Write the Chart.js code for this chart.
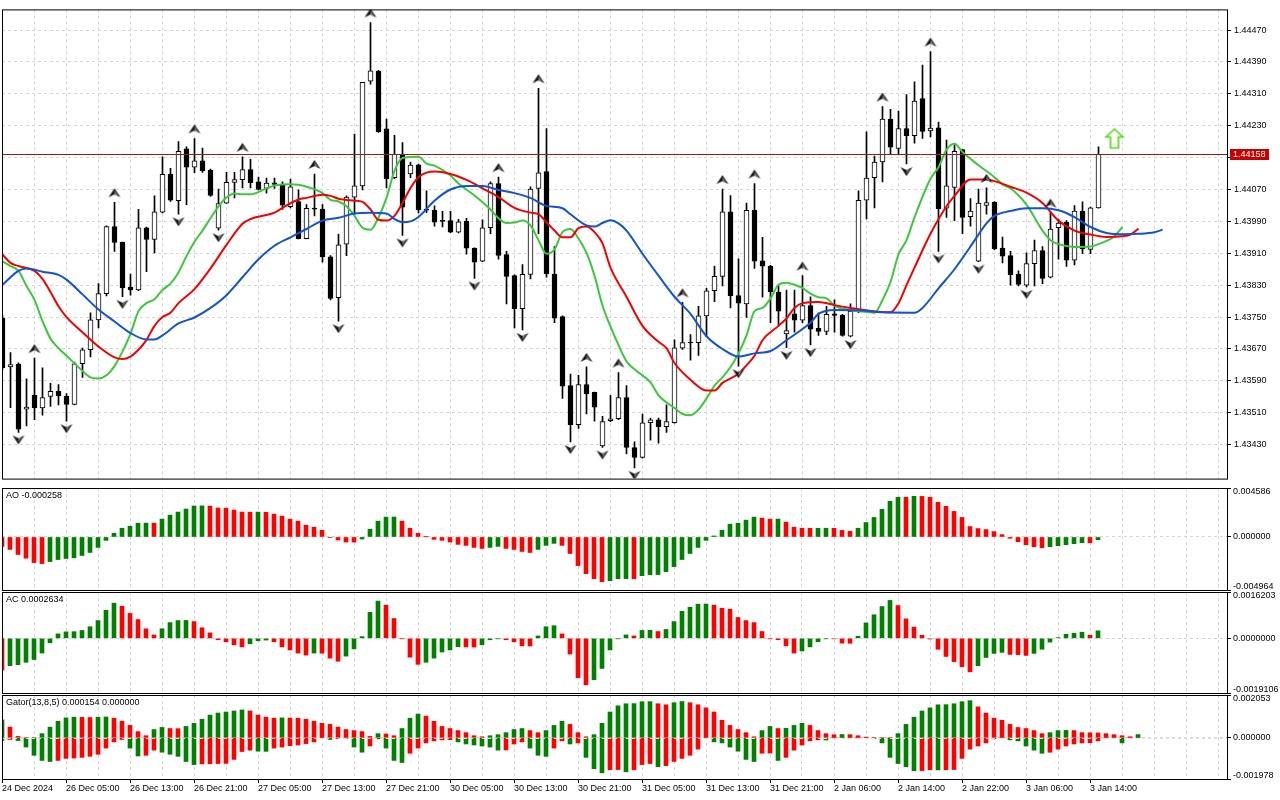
<!DOCTYPE html>
<html>
<head>
<meta charset="utf-8">
<script src="https://cdn.jsdelivr.net/npm/chart.js@4.4.1/dist/chart.umd.min.js"></script>
<style>
  html, body { margin: 0; padding: 0; background: #fff; }
  #wrap { position: relative; width: 1280px; height: 800px; overflow: hidden; background: #fff; }
  #wrap canvas { position: absolute; left: 0; }
</style>
</head>
<body>
<div id="wrap">
  <canvas id="c-main" width="1280" height="486" style="top:1px"></canvas>
  <canvas id="c-ao" width="1280" height="104" style="top:487px"></canvas>
  <canvas id="c-ac" width="1280" height="103" style="top:591px"></canvas>
  <canvas id="c-gator" width="1280" height="106" style="top:694px"></canvas>
</div>
<script>
// ---- data (H1 bars) ----
const timeLabels = ['24 Dec 2024', '26 Dec 05:00', '26 Dec 13:00', '26 Dec 21:00', '27 Dec 05:00', '27 Dec 13:00',
  '27 Dec 21:00', '30 Dec 05:00', '30 Dec 13:00', '30 Dec 21:00', '31 Dec 05:00', '31 Dec 13:00', '31 Dec 21:00',
  '2 Jan 06:00', '2 Jan 14:00', '2 Jan 22:00', '3 Jan 06:00', '3 Jan 14:00'];

const priceTicks = [1.4343, 1.4351, 1.4359, 1.4367, 1.4375, 1.4383, 1.4391, 1.4399, 1.4407, 1.4415, 1.4423, 1.4431, 1.4439, 1.4447];

const opens = [
  1.43747, 1.43625, 1.43632, 1.43519, 1.43554, 1.43522, 1.43551, 1.43564, 1.43552, 1.43531,
  1.43633, 1.43668, 1.43743, 1.43809, 1.43977, 1.43938, 1.43825, 1.43818, 1.43974, 1.43945,
  1.44013, 1.44108, 1.44042, 1.44172, 1.44126, 1.44142, 1.44119, 1.43973, 1.44036, 1.44088,
  1.44095, 1.44120, 1.44089, 1.44073, 1.44087, 1.44081, 1.44027, 1.44040, 1.43947, 1.44023,
  1.44021, 1.43901, 1.43799, 1.43933, 1.44051, 1.44079, 1.44342, 1.44367, 1.44222, 1.44100,
  1.44158, 1.44109, 1.44132, 1.44021, 1.44018, 1.43992, 1.43992, 1.43963, 1.43990, 1.43923,
  1.43890, 1.43974, 1.44085, 1.43907, 1.43854, 1.43771, 1.43857, 1.44073, 1.44115, 1.43858,
  1.43751, 1.43578, 1.43480, 1.43581, 1.43561, 1.43427, 1.43490, 1.43495, 1.43548, 1.43423,
  1.43398, 1.43485, 1.43492, 1.43475, 1.43485, 1.43672, 1.43687, 1.43686, 1.43753, 1.43816,
  1.43852, 1.44014, 1.43804, 1.43783, 1.44018, 1.43891, 1.43878, 1.43813, 1.43708, 1.43758,
  1.43742, 1.43779, 1.43722, 1.43714, 1.43758, 1.43755, 1.43702, 1.43765, 1.44043, 1.44100,
  1.44139, 1.44247, 1.44173, 1.44223, 1.44205, 1.44298, 1.44217, 1.44225, 1.44023, 1.44075,
  1.44170, 1.44002, 1.43890, 1.44030, 1.44038, 1.43923, 1.43904, 1.43857, 1.43830, 1.43884,
  1.43917, 1.43850, 1.43974, 1.43988, 1.43893, 1.44016, 1.43920, 1.44024];
const highs = [
  1.43753, 1.43661, 1.43635, 1.43595, 1.43647, 1.43623, 1.43584, 1.43581, 1.43558, 1.43637,
  1.43672, 1.43761, 1.43834, 1.43979, 1.44038, 1.43938, 1.43858, 1.44020, 1.43976, 1.44054,
  1.44152, 1.44123, 1.44190, 1.44177, 1.44198, 1.44174, 1.44121, 1.44071, 1.44113, 1.44113,
  1.44152, 1.44146, 1.44101, 1.44099, 1.44099, 1.44089, 1.44096, 1.44069, 1.44032, 1.44109,
  1.44032, 1.43904, 1.43958, 1.44054, 1.44209, 1.44339, 1.44489, 1.44369, 1.44247, 1.44206,
  1.44188, 1.44139, 1.44134, 1.44067, 1.44029, 1.44015, 1.44015, 1.43995, 1.43998, 1.43924,
  1.43994, 1.44089, 1.44101, 1.43915, 1.43856, 1.43882, 1.44077, 1.44324, 1.44223, 1.43927,
  1.43753, 1.43607, 1.43604, 1.43625, 1.43562, 1.43501, 1.43554, 1.43611, 1.43578, 1.43437,
  1.43507, 1.43497, 1.43497, 1.43530, 1.43693, 1.43787, 1.43706, 1.43777, 1.43822, 1.43878,
  1.44071, 1.44055, 1.43896, 1.44036, 1.44085, 1.43950, 1.43880, 1.43830, 1.43818, 1.43818,
  1.43854, 1.43801, 1.43761, 1.43777, 1.43793, 1.43757, 1.43783, 1.44067, 1.44215, 1.44154,
  1.44278, 1.44271, 1.44267, 1.44308, 1.44340, 1.44382, 1.44416, 1.44239, 1.44194, 1.44182,
  1.44170, 1.44047, 1.44071, 1.44074, 1.44040, 1.43951, 1.43915, 1.43866, 1.43911, 1.43943,
  1.43927, 1.44012, 1.43996, 1.43992, 1.44030, 1.44039, 1.44026, 1.44177];
const lows = [
  1.43619, 1.43523, 1.43461, 1.43477, 1.43493, 1.43504, 1.43526, 1.43530, 1.43489, 1.43530,
  1.43599, 1.43650, 1.43723, 1.43803, 1.43915, 1.43801, 1.43805, 1.43816, 1.43864, 1.43911,
  1.44011, 1.44040, 1.44008, 1.44032, 1.44112, 1.44113, 1.44053, 1.43968, 1.44035, 1.44049,
  1.44074, 1.44074, 1.44069, 1.44061, 1.44073, 1.44020, 1.44024, 1.43946, 1.43946, 1.44004,
  1.43888, 1.43793, 1.43740, 1.43904, 1.44008, 1.44069, 1.44334, 1.44213, 1.44074, 1.44097,
  1.43955, 1.44100, 1.44011, 1.44012, 1.43978, 1.43976, 1.43962, 1.43961, 1.43908, 1.43847,
  1.43889, 1.43959, 1.43895, 1.43783, 1.43723, 1.43718, 1.43846, 1.43959, 1.43850, 1.43736,
  1.43546, 1.43437, 1.43471, 1.43507, 1.43489, 1.43423, 1.43488, 1.43493, 1.43407, 1.43372,
  1.43396, 1.43441, 1.43434, 1.43461, 1.43484, 1.43669, 1.43642, 1.43654, 1.43700, 1.43789,
  1.43828, 1.43773, 1.43627, 1.43749, 1.43872, 1.43800, 1.43736, 1.43728, 1.43673, 1.43712,
  1.43736, 1.43680, 1.43704, 1.43706, 1.43712, 1.43702, 1.43700, 1.43761, 1.43996, 1.44024,
  1.44089, 1.44158, 1.44158, 1.44134, 1.44186, 1.44198, 1.44202, 1.43915, 1.44000, 1.43992,
  1.43959, 1.43978, 1.43889, 1.44008, 1.43919, 1.43886, 1.43830, 1.43828, 1.43826, 1.43828,
  1.43834, 1.43848, 1.43895, 1.43877, 1.43881, 1.43909, 1.43909, 1.44023];
const closes = [
  1.43623, 1.43631, 1.43469, 1.43524, 1.43522, 1.43548, 1.43564, 1.43552, 1.43531, 1.43633,
  1.43668, 1.43743, 1.43809, 1.43977, 1.43937, 1.43823, 1.43818, 1.43974, 1.43945, 1.44014,
  1.44108, 1.44043, 1.44166, 1.44126, 1.44142, 1.44117, 1.44055, 1.44035, 1.44088, 1.44095,
  1.44120, 1.44087, 1.44070, 1.44086, 1.44083, 1.44031, 1.44077, 1.43947, 1.44023, 1.44021,
  1.43901, 1.43797, 1.43931, 1.44051, 1.44079, 1.44339, 1.44368, 1.44215, 1.44097, 1.44158,
  1.44026, 1.44131, 1.44019, 1.44018, 1.43988, 1.43990, 1.43963, 1.43989, 1.43923, 1.43888,
  1.43974, 1.44085, 1.43905, 1.43852, 1.43771, 1.43857, 1.44071, 1.44112, 1.43858, 1.43747,
  1.43577, 1.43480, 1.43581, 1.43558, 1.43524, 1.43488, 1.43495, 1.43548, 1.43423, 1.43398,
  1.43485, 1.43492, 1.43475, 1.43488, 1.43673, 1.43686, 1.43685, 1.43753, 1.43816, 1.43852,
  1.44014, 1.43804, 1.43785, 1.44018, 1.43890, 1.43878, 1.43813, 1.43765, 1.43716, 1.43742,
  1.43779, 1.43720, 1.43714, 1.43757, 1.43754, 1.43704, 1.43765, 1.44043, 1.44099, 1.44139,
  1.44247, 1.44176, 1.44223, 1.44205, 1.44292, 1.44216, 1.44224, 1.44022, 1.44079, 1.44166,
  1.44000, 1.44016, 1.44036, 1.44037, 1.43921, 1.43903, 1.43856, 1.43832, 1.43884, 1.43917,
  1.43847, 1.43971, 1.43986, 1.43893, 1.44016, 1.43921, 1.44024, 1.44158];

// Alligator lines as [bar, price], already shifted forward like on the chart
const jaw = [[0, 1.43831], [2, 1.43866], [3, 1.43872], [5, 1.43864], [7, 1.43856], [8, 1.43844], [10, 1.43807], [12, 1.43769],
  [14, 1.43739], [16, 1.43710], [18, 1.43694], [19, 1.43694], [20, 1.43704], [22, 1.43734], [24, 1.43749], [26, 1.43773],
  [28, 1.43805], [30, 1.43850], [32, 1.43895], [34, 1.43929], [36, 1.43950], [38, 1.43971], [40, 1.43992], [42, 1.43999],
  [44, 1.44010], [46, 1.44012], [48, 1.44010], [49, 1.43996], [50, 1.43988], [51, 1.43990], [52, 1.44001], [54, 1.44042],
  [56, 1.44070], [58, 1.44079], [60, 1.44079], [62, 1.44069], [64, 1.44061], [66, 1.44049], [68, 1.44029], [70, 1.44023],
  [71, 1.44008], [73, 1.43980], [74, 1.43977], [75, 1.43986], [76, 1.43993], [77, 1.43985], [78, 1.43967], [80, 1.43909],
  [82, 1.43854], [84, 1.43801], [86, 1.43758], [88, 1.43702], [90, 1.43670], [92, 1.43651], [94, 1.43659], [96, 1.43665],
  [98, 1.43692], [100, 1.43720], [101, 1.43736], [102, 1.43758], [104, 1.43768], [107, 1.43767], [110, 1.43762], [114, 1.43761],
  [115, 1.43773], [117, 1.43822], [119, 1.43870], [121, 1.43927], [123, 1.43985], [124, 1.44004], [126, 1.44016], [128, 1.44023],
  [130, 1.44023], [132, 1.44018], [134, 1.44001], [136, 1.43976], [138, 1.43961], [140, 1.43958], [142, 1.43959], [144, 1.43963],
  [145, 1.43969]];
const teeth = [[0, 1.43907], [1, 1.43886], [2, 1.43878], [4, 1.43866], [5, 1.43846], [6, 1.43813], [7, 1.43777], [8, 1.43750],
  [10, 1.43712], [12, 1.43676], [14, 1.43649], [15, 1.43645], [16, 1.43651], [17, 1.43668], [18, 1.43693], [19, 1.43728],
  [20, 1.43750], [21, 1.43761], [22, 1.43785], [24, 1.43820], [26, 1.43872], [28, 1.43931], [30, 1.43984], [31, 1.43996],
  [33, 1.44006], [34, 1.44012], [35, 1.44024], [37, 1.44045], [38, 1.44049], [40, 1.44057], [41, 1.44054], [42, 1.44047],
  [44, 1.44042], [45, 1.44039], [46, 1.44020], [47, 1.43994], [48, 1.43992], [49, 1.44004], [50, 1.44036], [51, 1.44074],
  [52, 1.44101], [54, 1.44115], [56, 1.44109], [58, 1.44094], [60, 1.44073], [62, 1.44051], [64, 1.44024], [66, 1.44012],
  [67, 1.44008], [68, 1.43988], [69, 1.43967], [70, 1.43950], [71, 1.43950], [72, 1.43973], [73, 1.43977], [74, 1.43963],
  [75, 1.43935], [76, 1.43874], [78, 1.43801], [80, 1.43728], [82, 1.43688], [83, 1.43672], [84, 1.43635], [86, 1.43593],
  [88, 1.43566], [89, 1.43566], [90, 1.43585], [92, 1.43608], [93, 1.43629], [94, 1.43653], [95, 1.43692], [97, 1.43728],
  [98, 1.43747], [99, 1.43773], [100, 1.43785], [102, 1.43788], [104, 1.43780], [106, 1.43773], [108, 1.43767], [111, 1.43762],
  [112, 1.43785], [113, 1.43830], [114, 1.43874], [116, 1.43959], [118, 1.44028], [119, 1.44054], [121, 1.44095], [123, 1.44095],
  [124, 1.44091], [126, 1.44077], [128, 1.44062], [130, 1.44036], [132, 1.43992], [134, 1.43967], [136, 1.43957], [138, 1.43951],
  [140, 1.43953], [141, 1.43957], [142, 1.43972]];
const lips = [[0, 1.43890], [1, 1.43878], [2, 1.43866], [3, 1.43828], [4, 1.43793], [5, 1.43740], [6, 1.43696], [7, 1.43672],
  [8, 1.43653], [10, 1.43615], [11, 1.43599], [12, 1.43596], [13, 1.43604], [14, 1.43627], [15, 1.43664], [16, 1.43708],
  [17, 1.43765], [18, 1.43785], [19, 1.43795], [20, 1.43818], [21, 1.43834], [22, 1.43862], [23, 1.43903], [24, 1.43939],
  [25, 1.43967], [26, 1.43998], [27, 1.44028], [28, 1.44050], [29, 1.44060], [30, 1.44058], [31, 1.44058], [33, 1.44073],
  [34, 1.44080], [36, 1.44083], [37, 1.44082], [38, 1.44077], [40, 1.44061], [41, 1.44044], [42, 1.44040], [43, 1.44028],
  [44, 1.44004], [45, 1.43974], [46, 1.43969], [47, 1.44000], [48, 1.44049], [49, 1.44117], [50, 1.44149], [52, 1.44152],
  [53, 1.44135], [54, 1.44130], [56, 1.44105], [57, 1.44085], [59, 1.44055], [61, 1.44020], [62, 1.43998], [63, 1.43986],
  [64, 1.43987], [65, 1.43992], [66, 1.43980], [67, 1.43943], [68, 1.43909], [69, 1.43920], [70, 1.43963], [71, 1.43971],
  [72, 1.43947], [73, 1.43911], [74, 1.43854], [75, 1.43779], [76, 1.43726], [77, 1.43680], [78, 1.43639], [79, 1.43619],
  [81, 1.43586], [82, 1.43554], [84, 1.43522], [85, 1.43507], [86, 1.43504], [87, 1.43518], [88, 1.43546], [89, 1.43578],
  [90, 1.43599], [91, 1.43625], [92, 1.43659], [93, 1.43704], [94, 1.43765], [95, 1.43773], [96, 1.43797], [97, 1.43831],
  [98, 1.43836], [99, 1.43831], [100, 1.43823], [101, 1.43809], [102, 1.43800], [103, 1.43797], [104, 1.43779], [106, 1.43767],
  [108, 1.43763], [109, 1.43761], [110, 1.43793], [111, 1.43838], [112, 1.43907], [113, 1.43943], [114, 1.44000], [116, 1.44097],
  [117, 1.44126], [118, 1.44170], [119, 1.44185], [120, 1.44164], [122, 1.44131], [124, 1.44101], [125, 1.44083], [126, 1.44073],
  [128, 1.44032], [130, 1.43967], [131, 1.43943], [132, 1.43933], [134, 1.43926], [136, 1.43927], [137, 1.43933], [138, 1.43941],
  [139, 1.43953], [140, 1.43976]];

const fractalUp = [4, 14, 24, 30, 39, 46, 62, 67, 73, 77, 85, 90, 94, 100, 110, 116, 123, 131];
const fractalDown = [2, 8, 15, 22, 27, 42, 50, 59, 65, 71, 75, 79, 92, 98, 101, 106, 113, 117, 122, 128];
const signalArrow = [[139, 1.44198]];

const ao = [
  -0.000883, -0.001166, -0.001639, -0.001986, -0.002395, -0.002490, -0.002301, -0.002112, -0.002017, -0.001954,
  -0.001734, -0.001450, -0.000977, -0.000315, 0.000347, 0.000820, 0.001009, 0.001292, 0.001300, 0.001285,
  0.001671, 0.002049, 0.002332, 0.002616, 0.002900, 0.002910, 0.002890, 0.002711, 0.002700, 0.002522,
  0.002332, 0.002320, 0.002330, 0.002310, 0.002143, 0.001954, 0.001671, 0.001481, 0.001103, 0.000914,
  0.000630, -0.000030, -0.000284, -0.000473, -0.000480, -0.000189, 0.000725, 0.001481, 0.001860, 0.001870,
  0.001481, 0.000820, 0.000347, 0.000020, -0.000221, -0.000315, -0.000473, -0.000693, -0.000788, -0.000977,
  -0.001072, -0.000977, -0.000883, -0.001072, -0.001166, -0.001355, -0.001450, -0.001166, -0.000788, -0.000599,
  -0.000788, -0.001545, -0.002679, -0.003436, -0.003908, -0.004192, -0.004098, -0.003908, -0.003900, -0.003910,
  -0.003625, -0.003530, -0.003520, -0.003247, -0.002774, -0.002112, -0.001545, -0.000977, -0.000315, 0.000095,
  0.000630, 0.001198, 0.001292, 0.001576, 0.001860, 0.001765, 0.001671, 0.001680, 0.001387, 0.000914,
  0.000820, 0.000810, 0.000815, 0.000820, 0.000810, 0.000615, 0.000536, 0.000820, 0.001355, 0.001828,
  0.002585, 0.003341, 0.003719, 0.003710, 0.003814, 0.003800, 0.003719, 0.003247, 0.002868, 0.002395,
  0.001828, 0.000977, 0.000788, 0.000693, 0.000504, 0.000221, -0.000126, -0.000441, -0.000725, -0.000914,
  -0.001009, -0.000914, -0.000820, -0.000725, -0.000630, -0.000536, -0.000545, -0.000258];

const ac = [
  -0.001111, -0.000956, -0.000920, -0.000837, -0.000741, -0.000514, -0.000155, 0.000155, 0.000227, 0.000233,
  0.000275, 0.000406, 0.000621, 0.000980, 0.001231, 0.001123, 0.000872, 0.000657, 0.000335, 0.000120,
  0.000335, 0.000550, 0.000621, 0.000627, 0.000586, 0.000370, 0.000191, -0.000048, -0.000120, -0.000227,
  -0.000299, -0.000191, -0.000084, -0.000060, -0.000120, -0.000299, -0.000406, -0.000514, -0.000586, -0.000514,
  -0.000520, -0.000693, -0.000801, -0.000621, -0.000370, 0.000060, 0.000908, 0.001303, 0.001159, 0.000693,
  -0.000012, -0.000657, -0.000908, -0.000837, -0.000693, -0.000478, -0.000406, -0.000290, -0.000299, -0.000305,
  -0.000227, -0.000048, -0.000012, -0.000048, -0.000120, -0.000263, -0.000269, 0.000084, 0.000406, 0.000442,
  0.000155, -0.000550, -0.001374, -0.001625, -0.001446, -0.001052, -0.000406, -0.000012, 0.000120, 0.000084,
  0.000275, 0.000281, 0.000239, 0.000311, 0.000586, 0.000944, 0.001087, 0.001195, 0.001201, 0.001159,
  0.001052, 0.001016, 0.000729, 0.000621, 0.000550, 0.000239, -0.000012, -0.000048, -0.000263, -0.000514,
  -0.000442, -0.000299, -0.000120, -0.000012, -0.000018, -0.000167, -0.000173, 0.000072, 0.000538, 0.000825,
  0.001111, 0.001326, 0.001147, 0.000681, 0.000394, 0.000108, -0.000024, -0.000382, -0.000633, -0.000813,
  -0.000992, -0.001171, -0.000956, -0.000669, -0.000526, -0.000490, -0.000562, -0.000568, -0.000598, -0.000526,
  -0.000382, -0.000131, 0.000024, 0.000143, 0.000179, 0.000215, 0.000108, 0.0002634];

const gatorUp = [
  0.000857, 0.000511, 0.000066, 0, 0, 0.000198, 0.000511, 0.000792, 0.000956, 0.000989,
  0.000981, 0.000973, 0.000989, 0.000998, 0.000940, 0.000792, 0.000594, 0.000297, 0.000099, 0.000396,
  0.000495, 0.000445, 0.000437, 0.000544, 0.000693, 0.000890, 0.001088, 0.001187, 0.001237, 0.001286,
  0.001336, 0.001286, 0.001088, 0.000989, 0.000940, 0.000956, 0.000948, 0.000940, 0.000890, 0.000792,
  0.000693, 0.000643, 0.000511, 0.000396, 0.000346, 0.000297, 0.000066, 0.000198, 0.000181, 0.000099,
  0.000445, 0.000940, 0.001138, 0.001039, 0.000792, 0.000544, 0.000445, 0.000346, 0.000247, 0.000099,
  0.000049, 0.000099, 0.000148, 0.000247, 0.000396, 0.000445, 0.000346, 0.000247, 0.000346, 0.000594,
  0.000792, 0.000643, 0.000247, 0.000049, 0.000148, 0.000693, 0.001237, 0.001534, 0.001633, 0.001641,
  0.001731, 0.001735, 0.001633, 0.001583, 0.001682, 0.001740, 0.001682, 0.001583, 0.001435, 0.001237,
  0.000841, 0.000594, 0.000396, 0.000247, 0.000049, 0.000346, 0.000544, 0.000445, 0.000453, 0.000594,
  0.000693, 0.000594, 0.000346, 0.000198, 0.000148, 0.000157, 0.000148, 0.000099, 0.000033, 0,
  0, 0, 0.000198, 0.000643, 0.000989, 0.001286, 0.001435, 0.001583, 0.001591, 0.001633,
  0.001731, 0.001781, 0.001484, 0.001187, 0.000940, 0.000841, 0.000643, 0.000495, 0.000445, 0.000346,
  0.000198, 0.000247, 0.000346, 0.000355, 0.000346, 0.000247, 0.000239, 0.000231, 0.000198, 0.000148,
  0.000099, 0.000049, 0.000154];
const gatorDown = [
  -0.000132, -0.000082, -0.000132, -0.000445, -0.000841, -0.001088, -0.001138, -0.001088, -0.000989, -0.000973,
  -0.000940, -0.000890, -0.000792, -0.000495, -0.000198, -0.000082, -0.000495, -0.000874, -0.000841, -0.000594,
  -0.000693, -0.000792, -0.000890, -0.001138, -0.001286, -0.001253, -0.001245, -0.001237, -0.001229, -0.001039,
  -0.000660, -0.000594, -0.000643, -0.000651, -0.000495, -0.000445, -0.000379, -0.000346, -0.000280, -0.000198,
  0, -0.000082, -0.000033, -0.000008, -0.000445, -0.000693, -0.000396, -0.000049, -0.000495, -0.001088,
  -0.001187, -0.000742, -0.000495, -0.000247, -0.000148, -0.000099, -0.000091, -0.000198, -0.000297, -0.000346,
  -0.000396, -0.000445, -0.000594, -0.000585, -0.000297, -0.000198, -0.000495, -0.000841, -0.000890, -0.000495,
  -0.000148, -0.000297, -0.000247, -0.000940, -0.001484, -0.001682, -0.001534, -0.001525, -0.001633, -0.001534,
  -0.001286, -0.001237, -0.001385, -0.001336, -0.001138, -0.000989, -0.000841, -0.000544, 0, -0.000198,
  -0.000247, -0.000445, -0.000643, -0.001039, -0.001138, -0.000742, -0.000734, -0.001088, -0.000940, -0.000594,
  -0.000346, -0.000148, -0.000099, -0.000107, 0, 0, 0, 0, 0, -0.000033,
  -0.000247, -0.000940, -0.001237, -0.001385, -0.001583, -0.001575, -0.001534, -0.001542, -0.001534, -0.001525,
  -0.000989, -0.000544, -0.000396, -0.000247, -0.000049, 0, -0.000099, -0.000148, -0.000396, -0.000594,
  -0.000742, -0.000693, -0.000544, -0.000396, -0.000297, -0.000247, -0.000239, -0.000148, 0, 0,
  -0.000247, 0, 0];

// scale extremes printed on the right of each window
const priceRange = [1.433449, 1.445218];
const aoRange = [-0.004964, 0.004586];
const acRange = [-0.0019106, 0.0016203];
const gatorRange = [-0.001978, 0.002053];

// ---- look ----
const FONT = '"Liberation Sans", Arial, sans-serif';
const GRID = '#d6d6d6';
const UP = '#008000';
const DOWN = '#ff0000';
const AXIS_W = 53;
const BAR_SPAN = 153.125;   // bars that fit across the plot (8px each)

Chart.defaults.font.family = FONT;
Chart.defaults.font.size = 9;
Chart.defaults.color = '#000';

function xAxis(min, withLabels) {
  return {
    type: 'linear', min: min, max: min + BAR_SPAN, offset: false,
    afterBuildTicks: s => { s.ticks = []; for (let v = 0; v <= 152; v += 4) s.ticks.push({ value: v }); },
    afterFit: s => { s.height = withLabels ? 21 : 0; },
    grid: {
      color: GRID, offset: false, drawTicks: withLabels, tickLength: 4,
      tickColor: c => (c.index % 2 === 0 && c.index / 2 < timeLabels.length ? '#000' : 'rgba(0,0,0,0)')
    },
    border: { display: false, dash: [3, 3] },
    ticks: {
      display: withLabels, autoSkip: false, maxRotation: 0, minRotation: 0, align: 'start', padding: 0,
      callback: v => (v % 8 === 0 && timeLabels[v / 8]) || ''
    }
  };
}

function yAxis(range, ticks, showLabels, digits) {
  return {
    position: 'right', min: range[0], max: range[1],
    afterBuildTicks: s => { s.ticks = ticks.map(v => ({ value: v })); },
    afterFit: s => { s.width = AXIS_W; },
    grid: { color: GRID, tickLength: 4, tickColor: '#000' },
    border: { display: false, dash: [3, 3] },
    ticks: { display: showLabels, autoSkip: false, padding: 3, callback: v => v.toFixed(digits) }
  };
}

// frame, window title, right-hand scale text, extra lines
function panelPlugin(o) {
  return {
    id: 'panel',
    afterDatasetsDraw(chart) {
      const { ctx, chartArea: a } = chart;
      ctx.save();
      if (o.zeroOnTop) {
        const y = Math.round(chart.scales.y.getPixelForValue(0)) + 0.5;
        ctx.strokeStyle = '#e2e2e2'; ctx.lineWidth = 1; ctx.setLineDash([3, 3]);
        ctx.beginPath(); ctx.moveTo(a.left, y); ctx.lineTo(a.right, y); ctx.stroke();
      }
      if (o.priceLine !== undefined) {
        const y = Math.round(chart.scales.y.getPixelForValue(o.priceLine)) + 0.5;
        ctx.strokeStyle = '#a01818'; ctx.lineWidth = 1; ctx.setLineDash([]);
        ctx.beginPath(); ctx.moveTo(a.left, y); ctx.lineTo(a.right, y); ctx.stroke();
      }
      ctx.restore();
    },
    afterDraw(chart) {
      const { ctx, chartArea: a } = chart;
      ctx.save();
      ctx.strokeStyle = '#000'; ctx.lineWidth = 1;
      ctx.strokeRect(a.left + 0.5, a.top + 0.5, a.right - a.left, a.bottom - a.top);
      ctx.font = '9px ' + FONT;
      ctx.fillStyle = '#000'; ctx.textAlign = 'left';
      if (o.title) {
        ctx.textBaseline = 'top';
        ctx.fillText(o.title, a.left + 4, a.top + 3);
      }
      if (o.scaleText) {
        const x = a.right + 6;
        ctx.textBaseline = 'top';
        ctx.fillText(o.range[1].toFixed(o.digits), x, a.top - 1);
        ctx.textBaseline = 'middle';
        ctx.fillText((0).toFixed(o.digits), x, chart.scales.y.getPixelForValue(0));
        ctx.textBaseline = 'bottom';
        ctx.fillText(o.range[0].toFixed(o.digits), x, a.bottom + 1);
      }
      if (o.priceLine !== undefined) {
        const y = Math.round(chart.scales.y.getPixelForValue(o.priceLine));
        ctx.fillStyle = '#c80000';
        ctx.fillRect(a.right + 3, y - 5, 39, 11);
        ctx.fillStyle = '#fff'; ctx.textBaseline = 'middle';
        ctx.fillText(o.priceLine.toFixed(5), a.right + 6, y + 0.5);
      }
      ctx.restore();
    }
  };
}

function fractalIcon(up) {
  const c = document.createElement('canvas');
  c.width = 14; c.height = 36;
  const g = c.getContext('2d');
  g.translate(7, up ? 9 : 25);
  if (!up) g.scale(1, -1);
  g.beginPath(); g.moveTo(0, -5); g.lineTo(6, 4); g.lineTo(0, 1); g.lineTo(-6, 4); g.closePath();
  g.fillStyle = '#151515'; g.fill();
  g.beginPath(); g.moveTo(0, -3); g.lineTo(4, 3); g.lineTo(0, 1); g.closePath();
  g.fillStyle = '#8a7a6a'; g.fill();
  return c;
}

function arrowIcon() {
  const c = document.createElement('canvas');
  c.width = 22; c.height = 24;
  const g = c.getContext('2d');
  g.translate(11, 12);
  g.beginPath();
  g.moveTo(0, -9.5); g.lineTo(8.5, -1.5); g.lineTo(4, -1.5); g.lineTo(4, 9.5);
  g.lineTo(-4, 9.5); g.lineTo(-4, -1.5); g.lineTo(-8.5, -1.5); g.closePath();
  g.fillStyle = '#fbfff0'; g.fill();
  g.strokeStyle = '#5ccf2c'; g.lineWidth = 1.6; g.stroke();
  return c;
}

function risingColors(values, firstColor, useAbs) {
  return values.map((v, i) => {
    if (i === 0) return firstColor;
    const a = useAbs ? Math.abs(v) : v;
    const b = useAbs ? Math.abs(values[i - 1]) : values[i - 1];
    return a > b ? UP : DOWN;
  });
}

const baseOptions = (padBottom) => ({
  responsive: false,
  animation: false,
  events: [],
  layout: { autoPadding: false, padding: { left: 2, right: 0, top: 1, bottom: padBottom } },
  plugins: { legend: { display: false }, tooltip: { enabled: false } }
});

// ---- price window ----
const bars = opens.map((_, i) => i);
const lineSet = (pts, color) => ({
  type: 'line', data: pts.map(p => ({ x: p[0], y: p[1] })), borderColor: color, borderWidth: 2,
  pointRadius: 0, cubicInterpolationMode: 'monotone', order: 2
});

new Chart(document.getElementById('c-main'), {
  type: 'bar',
  data: {
    datasets: [
      { label: 'wick', data: bars.map(i => ({ x: i, y: [lows[i], highs[i]] })), backgroundColor: '#000',
        barThickness: 1, grouped: false, order: 5 },
      { label: 'body', data: bars.map(i => ({ x: i, y: [opens[i], closes[i]] })),
        backgroundColor: bars.map(i => (closes[i] >= opens[i] ? '#fff' : '#000')),
        borderColor: '#000', borderWidth: 1, borderSkipped: false, barThickness: 5, minBarLength: 1,
        grouped: false, order: 4 },
      lineSet(jaw, '#1152d6'),
      lineSet(teeth, '#f40000'),
      lineSet(lips, '#3cc83c'),
      { type: 'line', data: fractalUp.map(k => ({ x: k, y: highs[k] })), showLine: false,
        pointStyle: fractalIcon(true), pointRadius: 6, order: 1 },
      { type: 'line', data: fractalDown.map(k => ({ x: k, y: lows[k] })), showLine: false,
        pointStyle: fractalIcon(false), pointRadius: 6, order: 1 },
      { type: 'line', data: signalArrow.map(p => ({ x: p[0], y: p[1] })), showLine: false,
        pointStyle: arrowIcon(), pointRadius: 8, order: 0 }
    ]
  },
  options: Object.assign(baseOptions(1), {
    scales: { x: xAxis(-0.0625, false), y: yAxis(priceRange, priceTicks, true, 5) }
  }),
  plugins: [panelPlugin({ priceLine: closes[closes.length - 1] })]
});

// ---- AO ----
new Chart(document.getElementById('c-ao'), {
  type: 'bar',
  data: { datasets: [{ data: ao.map((v, i) => ({ x: i, y: v })), backgroundColor: risingColors(ao, DOWN, false),
    barThickness: 4, grouped: false }] },
  options: Object.assign(baseOptions(1), {
    scales: { x: xAxis(0, false), y: yAxis(aoRange, [aoRange[0], 0, aoRange[1]], false, 6) }
  }),
  plugins: [panelPlugin({ title: 'AO ' + ao[ao.length - 1].toFixed(6), scaleText: true, range: aoRange, digits: 6 })]
});

// ---- AC ----
new Chart(document.getElementById('c-ac'), {
  type: 'bar',
  data: { datasets: [{ data: ac.map((v, i) => ({ x: i, y: v })), backgroundColor: risingColors(ac, DOWN, false),
    barThickness: 4, grouped: false }] },
  options: Object.assign(baseOptions(1), {
    scales: { x: xAxis(0, false), y: yAxis(acRange, [acRange[0], 0, acRange[1]], false, 7) }
  }),
  plugins: [panelPlugin({ title: 'AC ' + ac[ac.length - 1].toFixed(7), scaleText: true, range: acRange, digits: 7 })]
});

// ---- Gator ----
new Chart(document.getElementById('c-gator'), {
  type: 'bar',
  data: { datasets: [
    { data: gatorUp.map((v, i) => ({ x: i, y: v })), backgroundColor: risingColors(gatorUp, UP, false),
      barThickness: 4, grouped: false },
    { data: gatorDown.map((v, i) => ({ x: i, y: v })), backgroundColor: risingColors(gatorDown, UP, true),
      barThickness: 4, grouped: false }
  ] },
  options: Object.assign(baseOptions(0), {
    scales: { x: xAxis(0, true), y: yAxis(gatorRange, [gatorRange[0], 0, gatorRange[1]], false, 6) }
  }),
  plugins: [panelPlugin({
    title: 'Gator(13,8,5) ' + gatorUp[gatorUp.length - 1].toFixed(6) + ' ' + Math.abs(gatorDown[gatorDown.length - 1]).toFixed(6),
    scaleText: true, range: gatorRange, digits: 6, zeroOnTop: true
  })]
});
</script>
</body>
</html>
